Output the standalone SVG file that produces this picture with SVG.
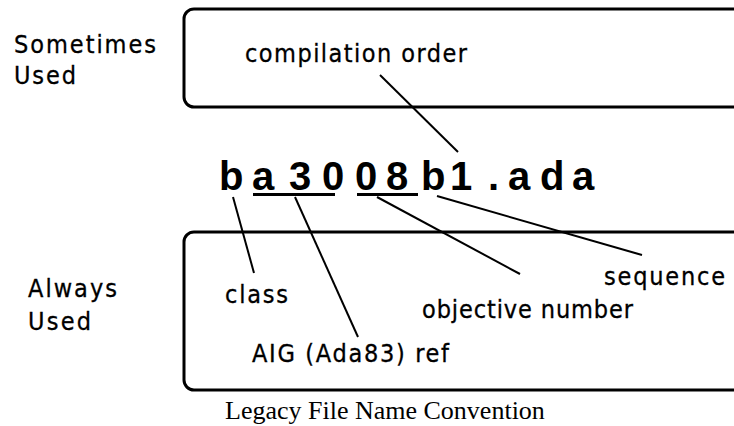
<svg xmlns="http://www.w3.org/2000/svg" width="734" height="426" viewBox="0 0 734 426">
<style>
.box{fill:none;stroke:#000;stroke-width:3}
.lbl{font-family:"DejaVu Sans Condensed","DejaVu Sans","Liberation Sans",sans-serif;font-stretch:condensed;font-size:25px;fill:#000;stroke:#000;stroke-width:0.3}
.side{font-family:"DejaVu Sans Condensed","DejaVu Sans","Liberation Sans",sans-serif;font-stretch:condensed;font-size:25px;fill:#000;stroke:#000;stroke-width:0.3}
.fn{font-family:"Liberation Sans",Arial,sans-serif;font-size:40px;font-weight:bold;fill:#000}
.cap{font-family:"Liberation Serif","Times New Roman",serif;font-size:26px;fill:#000}
.ln{stroke:#000;stroke-width:2;fill:none}
.ul{stroke:#000;stroke-width:3}
</style>
<rect width="734" height="426" fill="#fff"/>
<g id="sometimes">
<text class="side" x="14" y="53" textLength="142" lengthAdjust="spacing">Sometimes</text>
<text class="side" x="14" y="84" textLength="62" lengthAdjust="spacing">Used</text>
</g>
<g id="always">
<text class="side" x="28" y="297" textLength="89" lengthAdjust="spacing">Always</text>
<text class="side" x="28" y="330" textLength="63" lengthAdjust="spacing">Used</text>
</g>
<g id="top-box">
<rect class="box" x="184" y="9" width="570" height="98" rx="10"/>
<text class="lbl" x="245" y="62" textLength="222" lengthAdjust="spacing">compilation order</text>
</g>
<g id="bottom-box">
<rect class="box" x="184" y="232" width="570" height="158" rx="10"/>
<text class="lbl" x="225" y="303" textLength="63" lengthAdjust="spacing">class</text>
<text class="lbl" x="252" y="362" textLength="197" lengthAdjust="spacing">AIG (Ada83) ref</text>
<text class="lbl" x="422" y="318" textLength="211" lengthAdjust="spacing">objective number</text>
<text class="lbl" x="604" y="285" textLength="121" lengthAdjust="spacing">sequence</text>
</g>
<g id="filename">
<text class="fn" x="219 252 289 322 355 386 421 450 488 508 540 572" y="190">ba3008b1.ada</text>
<line class="ul" x1="253" y1="194.5" x2="335" y2="194.5"/>
<line class="ul" x1="357" y1="194.5" x2="418" y2="194.5"/>
</g>
<g id="connectors">
<line class="ln" x1="380" y1="75" x2="458" y2="152"/>
<line class="ln" x1="233" y1="197" x2="254" y2="273"/>
<line class="ln" x1="295" y1="197" x2="358" y2="337"/>
<line class="ln" x1="377" y1="197" x2="520" y2="274"/>
<line class="ln" x1="437" y1="196" x2="642" y2="255"/>
</g>
<g id="caption">
<text class="cap" x="225" y="419">Legacy File Name Convention</text>
</g>
</svg>
